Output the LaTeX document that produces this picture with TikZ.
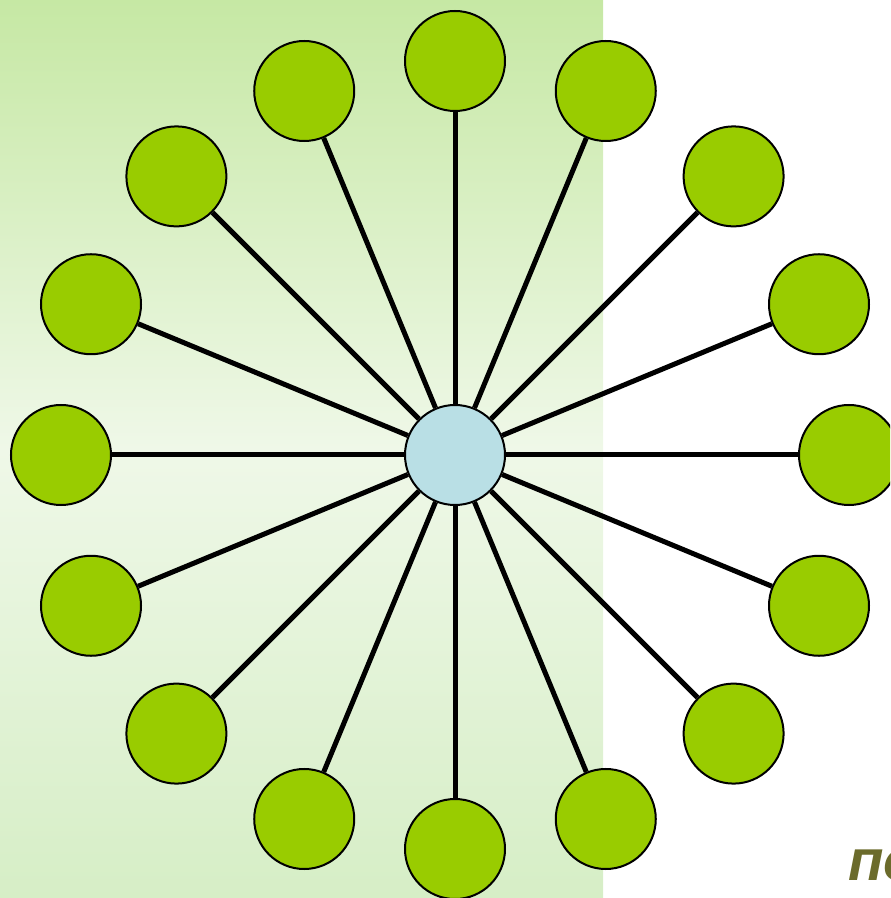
\documentclass[tikz,border=0pt]{standalone}
\usepackage{fontspec}
\newfontfamily\capfont{Liberation Sans}
\usetikzlibrary{calc}
\definecolor{leafgreen}{HTML}{99CC00}
\definecolor{hubblue}{HTML}{B9DFE5}
\definecolor{olivetext}{HTML}{6B6B2B}
\definecolor{woodtop}{HTML}{C6E8A4}
\definecolor{woodmid}{HTML}{EFF8E8}
\definecolor{woodbot}{HTML}{D6EEC6}

\begin{document}
\begin{tikzpicture}[
  leaf/.style={circle, draw, line width=0.4mm, fill=leafgreen, minimum size=20mm, inner sep=0pt},
  hub/.style={leaf, fill=hubblue},
  spoke/.style={line width=1mm},
  caption/.style={font=\capfont\bfseries\itshape\fontsize{33}{36}\selectfont, text=olivetext,
                  anchor=base west, inner sep=0pt},
]
\useasboundingbox (-91mm,-88.6mm) rectangle (87mm,91mm);
\clip (-91mm,-88.6mm) rectangle (87mm,91mm);
% background
\shade[top color=woodtop, bottom color=woodbot, middle color=woodmid]
  (-91mm,-88.6mm) rectangle (29.6mm,91mm);
% hub
\node[hub] (hub) at (0,0) {};
% leaves, counter-clockwise from the right
\node[leaf] (n0)  at (0:78.8mm)     {};
\node[leaf] (n1)  at (22.5:78.8mm)  {};
\node[leaf] (n2)  at (45:78.8mm)    {};
\node[leaf] (n3)  at (67.5:78.8mm)  {};
\node[leaf] (n4)  at (90:78.8mm)    {};
\node[leaf] (n5)  at (112.5:78.8mm) {};
\node[leaf] (n6)  at (135:78.8mm)   {};
\node[leaf] (n7)  at (157.5:78.8mm) {};
\node[leaf] (n8)  at (180:78.8mm)   {};
\node[leaf] (n9)  at (202.5:78.8mm) {};
\node[leaf] (n10) at (225:78.8mm)   {};
\node[leaf] (n11) at (247.5:78.8mm) {};
\node[leaf] (n12) at (270:78.8mm)   {};
\node[leaf] (n13) at (292.5:78.8mm) {};
\node[leaf] (n14) at (315:78.8mm)   {};
\node[leaf] (n15) at (337.5:78.8mm) {};
% spokes
\draw[spoke] (hub) -- (n0);
\draw[spoke] (hub) -- (n1);
\draw[spoke] (hub) -- (n2);
\draw[spoke] (hub) -- (n3);
\draw[spoke] (hub) -- (n4);
\draw[spoke] (hub) -- (n5);
\draw[spoke] (hub) -- (n6);
\draw[spoke] (hub) -- (n7);
\draw[spoke] (hub) -- (n8);
\draw[spoke] (hub) -- (n9);
\draw[spoke] (hub) -- (n10);
\draw[spoke] (hub) -- (n11);
\draw[spoke] (hub) -- (n12);
\draw[spoke] (hub) -- (n13);
\draw[spoke] (hub) -- (n14);
\draw[spoke] (hub) -- (n15);
% cut-off caption
\node[caption] (cap) at (78.6mm,-85mm) {по};
\end{tikzpicture}
\end{document}
